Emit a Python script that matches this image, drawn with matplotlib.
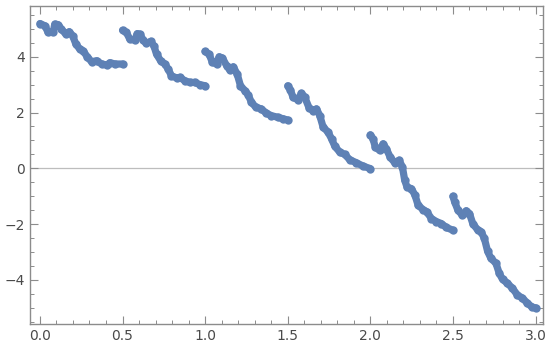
"""
staircase-like point plot, mathematica style frame
"""

import matplotlib
matplotlib.use("Agg")
import matplotlib.pyplot as plt
from matplotlib.ticker import MultipleLocator


# six pieces, each one
seg_x = [
    [0.0, 0.03, 0.05, 0.08, 0.09, 0.11, 0.13, 0.157, 0.177, 0.198, 0.218, 0.242, 0.262,
     0.286, 0.313, 0.343, 0.373, 0.407, 0.423, 0.454, 0.5],
    [0.5, 0.524, 0.544, 0.575, 0.589, 0.605, 0.625, 0.645, 0.67, 0.69, 0.706, 0.73,
     0.756, 0.776, 0.796, 0.827, 0.847, 0.877, 0.907, 0.938, 0.968, 1.0],
    [1.0, 1.024, 1.044, 1.07, 1.085, 1.105, 1.13, 1.15, 1.17, 1.194, 1.214, 1.24, 1.26,
     1.28, 1.307, 1.34, 1.37, 1.40, 1.44, 1.47, 1.5],
    [1.5, 1.516, 1.532, 1.563, 1.583, 1.603, 1.629, 1.653, 1.674, 1.694, 1.714, 1.744,
     1.765, 1.785, 1.815, 1.845, 1.875, 1.916, 1.956, 2.0],
    [2.0, 2.016, 2.03, 2.057, 2.077, 2.097, 2.12, 2.148, 2.174, 2.194, 2.208, 2.222,
     2.249, 2.27, 2.289, 2.319, 2.34, 2.37, 2.40, 2.43, 2.46, 2.5],
    [2.5, 2.51, 2.53, 2.557, 2.58, 2.60, 2.62, 2.65, 2.67, 2.69, 2.71, 2.73, 2.76, 2.78,
     2.80, 2.83, 2.86, 2.89, 2.92, 2.95, 2.98, 3.0],
]
seg_y = [
    [5.19, 5.11, 4.87, 4.87, 5.17, 5.15, 4.99, 4.81, 4.90, 4.75, 4.45, 4.27, 4.21,
     4.0, 3.82, 3.86, 3.74, 3.70, 3.79, 3.74, 3.74],
    [4.95, 4.87, 4.63, 4.60, 4.83, 4.81, 4.60, 4.48, 4.55, 4.39, 4.09, 3.86, 3.74,
     3.56, 3.32, 3.24, 3.26, 3.14, 3.08, 3.08, 3.0, 2.96],
    [4.19, 4.09, 3.80, 3.74, 4.0, 3.95, 3.68, 3.52, 3.64, 3.38, 2.96, 2.79, 2.64,
     2.37, 2.19, 2.13, 1.98, 1.89, 1.83, 1.78, 1.73],
    [2.96, 2.81, 2.55, 2.45, 2.69, 2.55, 2.17, 2.07, 2.13, 1.89, 1.48, 1.30, 1.06,
     0.79, 0.58, 0.50, 0.31, 0.20, 0.08, -0.01],
    [1.20, 1.06, 0.76, 0.64, 0.88, 0.70, 0.40, 0.20, 0.29, 0.05, -0.43, -0.67, -0.73,
     -0.96, -1.32, -1.48, -1.55, -1.80, -1.91, -1.98, -2.12, -2.22],
    [-1.0, -1.20, -1.50, -1.68, -1.52, -1.62, -1.98, -2.21, -2.27, -2.51, -2.98, -3.23,
     -3.40, -3.76, -3.98, -4.12, -4.30, -4.54, -4.65, -4.83, -4.98, -5.0],
]

POINT_COLOR = "#5e81b5"
FRAME_COLOR = "#8c8c8c"

fig = plt.figure(figsize=(5.5, 3.51), dpi=100)
ax = fig.add_axes([30 / 550, 27 / 351, 513 / 550, 318.3 / 351])

# thick round-capped line + dots gives the blobby point look
for xs, ys in zip(seg_x, seg_y):
    ax.plot(xs, ys, color=POINT_COLOR, linewidth=5.2, solid_capstyle="round",
            solid_joinstyle="round", marker="o", markersize=6,
            markeredgewidth=0, zorder=3)

ax.axhline(0, color="#bdbdbd", linewidth=0.9, zorder=1)

ax.set_xlim(-0.06, 3.045)
ax.set_ylim(-5.58, 5.83)

ax.xaxis.set_major_locator(MultipleLocator(0.5))
ax.xaxis.set_minor_locator(MultipleLocator(0.1))
ax.yaxis.set_major_locator(MultipleLocator(2))
ax.yaxis.set_minor_locator(MultipleLocator(0.5))
ax.xaxis.set_major_formatter(plt.FuncFormatter(lambda v, p: f"{v:.1f}"))
ax.yaxis.set_major_formatter(plt.FuncFormatter(
    lambda v, p: f"{int(round(v))}".replace("-", "\u2212")))

for side in ["left", "right", "top", "bottom"]:
    ax.spines[side].set_color(FRAME_COLOR)
    ax.spines[side].set_linewidth(1.0)

ax.tick_params(which="both", direction="in", top=True, right=True,
               color=FRAME_COLOR, labelcolor="#4a4a4a", labelsize=10)
ax.tick_params(which="major", length=5.5, width=0.8)
ax.tick_params(which="minor", length=3, width=0.7)

fig.savefig("out.png", dpi=100)
